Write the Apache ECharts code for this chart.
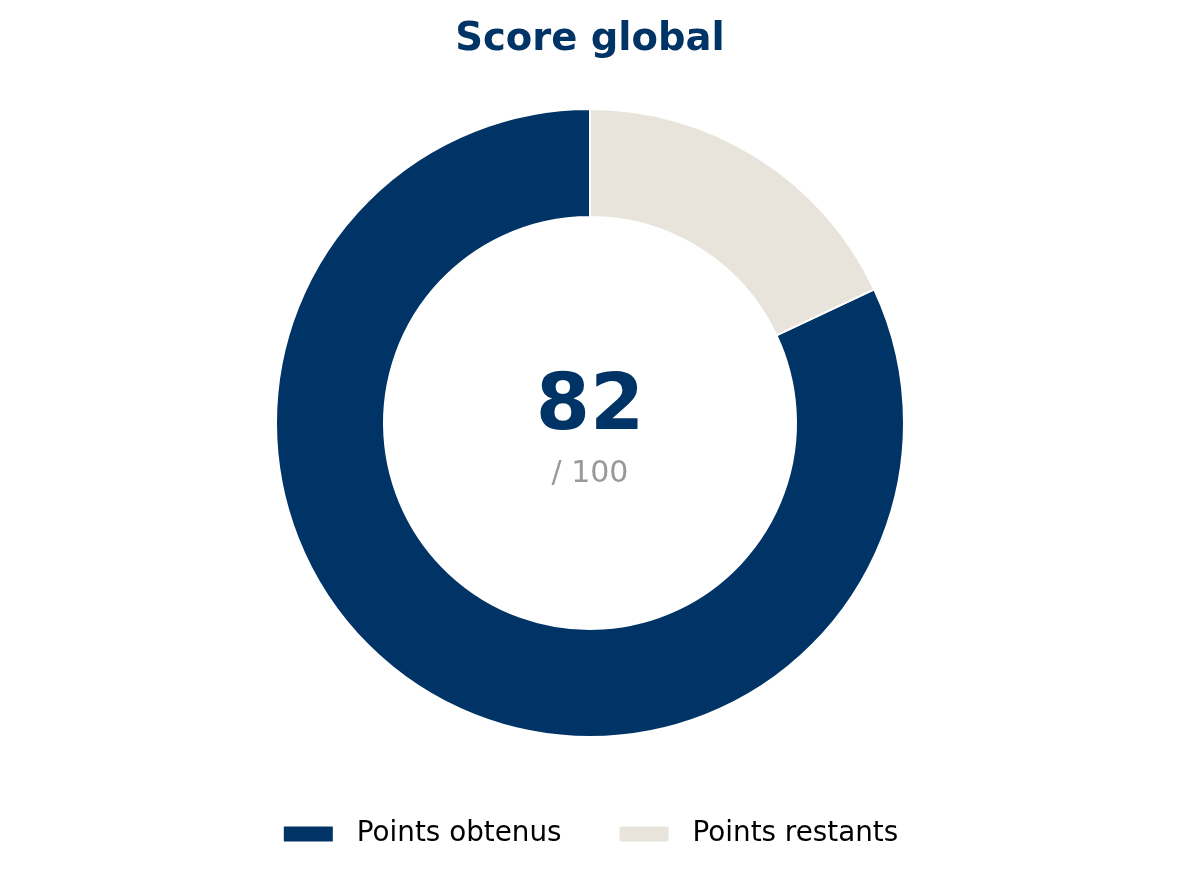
<!DOCTYPE html>
<html>
<head>
<meta charset="utf-8">
<script src="https://cdn.jsdelivr.net/npm/echarts@6/dist/echarts.min.js"></script>
<style>
html,body{margin:0;padding:0;background:#fff;}
#chart{width:1180px;height:879px;}
</style>
</head>
<body>
<div id="chart"></div>
<script>
const categories = ['Points obtenus', 'Points restants'];
const values = [82, 18];
const total = 100;
const colors = ['#003366', '#e8e4dc'];

const chart = echarts.init(document.getElementById('chart'), null, {renderer: 'canvas'});
const font = 'DejaVu Sans';
chart.setOption({
  animation: false,
  title: {
    text: 'Score global',
    left: 'center',
    top: 15,
    textStyle: {fontFamily: font, fontSize: 38.5, fontWeight: 'bold', color: '#003366'}
  },
  legend: {
    data: categories,
    bottom: 26,
    left: 'center',
    itemWidth: 51,
    itemHeight: 17,
    itemGap: 56,
    icon: 'rect',
    textStyle: {fontFamily: font, fontSize: 27.8, color: '#000', padding: [0, 0, 0, 18]}
  },
  graphic: [
    {
      type: 'text',
      left: 'center',
      top: 370,
      style: {text: String(values[0]), font: 'bold 78px "DejaVu Sans"', fill: '#003366', textAlign: 'center'}
    },
    {
      type: 'text',
      left: 'center',
      top: 459,
      style: {text: '/ ' + total, font: '30px "DejaVu Sans"', fill: '#999999', textAlign: 'center'}
    }
  ],
  series: [{
    type: 'pie',
    center: [590, 423],
    radius: [206, 314],
    clockwise: false,
    startAngle: 90,
    label: {show: false},
    labelLine: {show: false},
    emphasis: {disabled: true},
    itemStyle: {borderColor: '#ffffff', borderWidth: 2},
    data: categories.map((c, i) => ({name: c, value: values[i], itemStyle: {color: colors[i]}}))
  }]
});
</script>
</body>
</html>
